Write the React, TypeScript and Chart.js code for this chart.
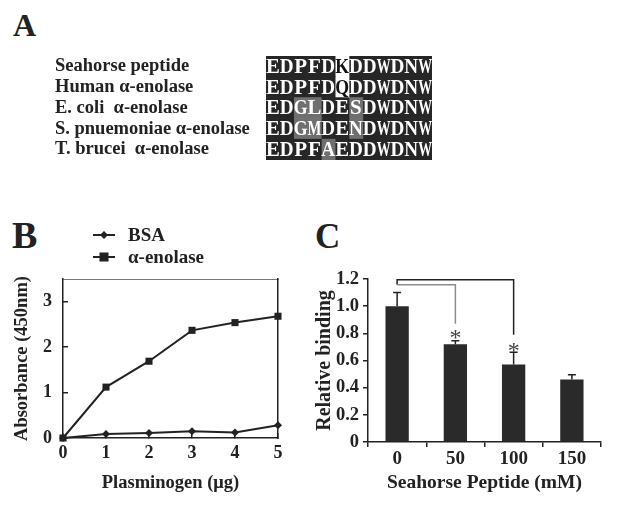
import React, { useEffect, useRef } from "react";
import { Chart, registerables } from "chart.js";

Chart.register(...registerables);

const SERIF = "'Liberation Serif', 'Times New Roman', serif";
const INK = "#222";

// ---------- Panel A data ----------
const alignRows = [
  "Seahorse peptide",
  "Human α-enolase",
  "E. coli  α-enolase",
  "S. pnuemoniae α-enolase",
  "T. brucei  α-enolase",
];
const alignSeqs = [
  "EDPFDKDDWDNW",
  "EDPFDQDDWDNW",
  "EDGLDESDWDNW",
  "EDGMDENDWDNW",
  "EDPFAEDDWDNW",
];
// d = identical (dark), g = similar (grey), w = different (white)
const alignShade = [
  "dddddwdddddd",
  "dddddwdddddd",
  "ddggddgddddd",
  "ddggddgddddd",
  "ddddgddddddd",
];

// ---------- Panel B data ----------
const plasminogen = [0, 1, 2, 3, 4, 5];
const bsaAbs = [0, 0.09, 0.11, 0.15, 0.12, 0.28];
const enolaseAbs = [0, 1.12, 1.69, 2.37, 2.54, 2.68];
const seriesBLabels = ["BSA", "α-enolase"];

// ---------- Panel C data ----------
const peptideConc = ["0", "50", "100", "150"];
const relBinding = [1.0, 0.72, 0.57, 0.46];
const relBindingErr = [0.1, 0.025, 0.09, 0.035];
const sigBrackets = [
  { from: 0, to: 2, top: 1.195, leftEnd: 1.158, rightEnd: 0.79, color: "#222" },
  { from: 0, to: 1, top: 1.158, leftEnd: 1.158, rightEnd: 0.87, color: "#8c8c8c" },
];
const sigStars = [
  { bar: 1, value: 0.8 },
  { bar: 2, value: 0.707 },
];

const shadeColor: Record<string, string> = { d: "#262626", g: "#6f6f6f", w: "#ffffff" };

function useChart(ref: React.RefObject<HTMLCanvasElement>, make: (c: HTMLCanvasElement) => Chart) {
  useEffect(() => {
    if (!ref.current) return;
    const ch = make(ref.current);
    return () => ch.destroy();
  }, []);
}

function PanelA() {
  const ref = useRef<HTMLCanvasElement>(null);
  useChart(ref, (canvas) => {
    const nCols = alignSeqs[0].length;
    const datasets = Array.from({ length: nCols }, (_, c) => ({
      label: "col" + c,
      data: alignRows.map(() => 1),
      backgroundColor: alignShade.map((s) => shadeColor[s[c]]),
      borderWidth: 0,
      barPercentage: 1,
      categoryPercentage: 1,
    }));
    const letters = {
      id: "letters",
      afterDatasetsDraw(chart: any) {
        const ctx = chart.ctx;
        ctx.save();
        ctx.font = `bold 21px ${SERIF}`;
        ctx.textAlign = "center";
        ctx.textBaseline = "middle";
        chart.data.datasets.forEach((_: any, c: number) => {
          const meta = chart.getDatasetMeta(c);
          meta.data.forEach((el: any, r: number) => {
            ctx.fillStyle = alignShade[r][c] === "w" ? "#111" : "#fff";
            ctx.save();
            const ch = alignSeqs[r][c];
            const cellW = Math.abs(el.x - el.base);
            const w = ctx.measureText(ch).width;
            const sx = w > cellW ? cellW / w : 1;
            ctx.translate((el.x + el.base) / 2, el.y + 1);
            ctx.scale(sx, 1);
            ctx.fillText(ch, 0, 0);
            ctx.restore();
          });
        });
        ctx.restore();
      },
    };
    return new Chart(canvas, {
      type: "bar",
      data: { labels: alignRows, datasets },
      options: {
        indexAxis: "y",
        responsive: false,
        animation: false,
        layout: { padding: { left: 55, top: 16, right: 186, bottom: 15 } },
        plugins: { legend: { display: false }, tooltip: { enabled: false } },
        scales: {
          x: { stacked: true, min: 0, max: nCols, display: false },
          y: {
            stacked: true,
            grid: { display: false },
            border: { display: false },
            ticks: {
              autoSkip: false,
              crossAlign: "far",
              color: INK,
              font: { family: SERIF, size: 18.5, weight: "bold" },
            },
            afterFit: (s: any) => {
              s.width = 211;
            },
          },
        },
      } as any,
      plugins: [letters],
    });
  });
  return <canvas ref={ref} width={618} height={135} style={{ position: "absolute", left: 0, top: 40 }} />;
}

function PanelB() {
  const ref = useRef<HTMLCanvasElement>(null);
  useChart(ref, (canvas) => {
    const legend = {
      id: "lineLegend",
      afterDraw(chart: any) {
        const ctx = chart.ctx;
        ctx.save();
        chart.data.datasets.forEach((ds: any, i: number) => {
          const y = 20 + i * 22;
          ctx.strokeStyle = INK;
          ctx.lineWidth = 2;
          ctx.beginPath();
          ctx.moveTo(93, y);
          ctx.lineTo(115, y);
          ctx.stroke();
          ctx.fillStyle = INK;
          const cx = 104;
          if (ds.pointStyle === "rect") {
            ctx.fillRect(cx - 4.5, y - 4.5, 9, 9);
          } else {
            ctx.beginPath();
            ctx.moveTo(cx, y - 4);
            ctx.lineTo(cx + 4, y);
            ctx.lineTo(cx, y + 4);
            ctx.lineTo(cx - 4, y);
            ctx.closePath();
            ctx.fill();
          }
          ctx.font = `bold 19px ${SERIF}`;
          ctx.textBaseline = "middle";
          ctx.textAlign = "left";
          ctx.fillText(ds.label, 128, y + 1);
        });
        ctx.restore();
      },
    };
    const tickFont = { family: SERIF, size: 18, weight: "bold" };
    const titleFont = { family: SERIF, size: 18.5, weight: "bold" };
    return new Chart(canvas, {
      type: "line",
      data: {
        datasets: [
          {
            label: seriesBLabels[0],
            data: plasminogen.map((x, i) => ({ x, y: bsaAbs[i] })),
            borderColor: INK,
            backgroundColor: INK,
            borderWidth: 2,
            pointStyle: "rectRot",
            pointRadius: 4,
            pointBorderWidth: 0,
            clip: false,
          },
          {
            label: seriesBLabels[1],
            data: plasminogen.map((x, i) => ({ x, y: enolaseAbs[i] })),
            borderColor: INK,
            backgroundColor: INK,
            borderWidth: 2,
            pointStyle: "rect",
            pointRadius: 5,
            pointBorderWidth: 0,
            clip: false,
          },
        ],
      },
      options: {
        responsive: false,
        animation: false,
        layout: { padding: { left: 0, top: 64, right: 22, bottom: 0 } },
        plugins: { legend: { display: false }, tooltip: { enabled: false } },
        scales: {
          x: {
            type: "linear",
            min: 0,
            max: 5,
            ticks: { stepSize: 1, color: INK, font: tickFont, padding: 10 },
            grid: { drawOnChartArea: false, tickLength: -5, color: INK, lineWidth: 1.5 },
            border: { color: INK, width: 1.5 },
            title: { display: true, text: "Plasminogen (μg)", color: INK, font: titleFont, padding: { top: 0, bottom: 18 } },
            afterFit: (s: any) => {
              s.height = 74;
            },
          },
          x2: {
            type: "linear",
            position: "top",
            min: 0,
            max: 5,
            ticks: { display: false },
            grid: { display: false },
            border: { display: true, color: "#777", width: 1 },
            afterFit: (s: any) => {
              s.height = 0;
            },
          },
          y: {
            min: 0,
            max: 3.5,
            ticks: { stepSize: 1, color: INK, font: tickFont, padding: 16 },
            afterBuildTicks: (s: any) => {
              s.ticks = s.ticks.filter((t: any) => Number.isInteger(t.value));
            },
            grid: { drawOnChartArea: false, tickLength: -5, color: INK, lineWidth: 1.5 },
            border: { color: INK, width: 1.5 },
            title: { display: true, text: "Absorbance (450nm)", color: INK, font: titleFont, padding: { top: 11, bottom: 0 } },
            afterFit: (s: any) => {
              s.width = 63;
            },
          },
          y2: {
            position: "right",
            min: 0,
            max: 3.5,
            ticks: { display: false },
            grid: { display: false },
            border: { display: true, color: INK, width: 1.5 },
            afterFit: (s: any) => {
              s.width = 0;
            },
          },
        },
      } as any,
      plugins: [legend],
    });
  });
  return <canvas ref={ref} width={300} height={297} style={{ position: "absolute", left: 0, top: 215 }} />;
}

function PanelC() {
  const ref = useRef<HTMLCanvasElement>(null);
  useChart(ref, (canvas) => {
    const annotations = {
      id: "errorsAndSig",
      afterDatasetsDraw(chart: any) {
        const ctx = chart.ctx;
        const ys = chart.scales.y;
        const meta = chart.getDatasetMeta(0);
        ctx.save();
        // error bars (upper only)
        ctx.strokeStyle = INK;
        ctx.lineWidth = 1.5;
        meta.data.forEach((el: any, i: number) => {
          const yv = ys.getPixelForValue(relBinding[i]);
          const ye = ys.getPixelForValue(relBinding[i] + relBindingErr[i]);
          ctx.beginPath();
          ctx.moveTo(el.x, yv);
          ctx.lineTo(el.x, ye);
          ctx.moveTo(el.x - 4, ye);
          ctx.lineTo(el.x + 4, ye);
          ctx.stroke();
        });
        // brackets
        sigBrackets.forEach((b) => {
          const x1 = meta.data[b.from].x;
          const x2 = meta.data[b.to].x;
          ctx.strokeStyle = b.color;
          ctx.lineWidth = 1.5;
          ctx.beginPath();
          ctx.moveTo(x1, ys.getPixelForValue(b.leftEnd));
          ctx.lineTo(x1, ys.getPixelForValue(b.top));
          ctx.lineTo(x2, ys.getPixelForValue(b.top));
          ctx.lineTo(x2, ys.getPixelForValue(b.rightEnd));
          ctx.stroke();
        });
        // stars
        ctx.fillStyle = "#444";
        ctx.font = `24px ${SERIF}`;
        ctx.textAlign = "center";
        ctx.textBaseline = "alphabetic";
        sigStars.forEach((s) => {
          const x = meta.data[s.bar].x;
          const y = ys.getPixelForValue(s.value);
          ctx.fillText("*", x, y + 12);
        });
        ctx.restore();
      },
    };
    return new Chart(canvas, {
      type: "bar",
      data: {
        labels: peptideConc,
        datasets: [
          {
            label: "Relative binding",
            data: relBinding,
            backgroundColor: "#2a2a2a",
            borderWidth: 0,
            barPercentage: 0.4,
            categoryPercentage: 1,
          },
        ],
      },
      options: {
        responsive: false,
        animation: false,
        layout: { padding: { left: 0, top: 64, right: 17, bottom: 0 } },
        plugins: { legend: { display: false }, tooltip: { enabled: false } },
        scales: {
          x: {
            ticks: { color: INK, font: { family: SERIF, size: 19, weight: "bold" }, padding: 1 },
            grid: { offset: true, drawOnChartArea: false, tickLength: 5, color: INK, lineWidth: 1.5 },
            border: { color: INK, width: 1.5 },
            title: {
              display: true,
              text: "Seahorse Peptide (mM)",
              color: INK,
              font: { family: SERIF, size: 19.5, weight: "bold" },
              padding: { top: 0, bottom: 17 },
            },
            afterFit: (s: any) => {
              s.height = 70;
            },
          },
          y: {
            min: 0,
            max: 1.2,
            ticks: {
              stepSize: 0.2,
              color: INK,
              font: { family: SERIF, size: 18.5, weight: "bold" },
              padding: 4,
              callback: (v: any) => (v === 0 ? "0" : Number(v).toFixed(1)),
            },
            grid: { drawOnChartArea: false, tickLength: 5, color: INK, lineWidth: 1.5 },
            border: { color: INK, width: 1.5 },
            title: {
              display: true,
              text: "Relative binding",
              color: INK,
              font: { family: SERIF, size: 20, weight: "bold" },
              padding: { top: 13, bottom: 0 },
            },
            afterFit: (s: any) => {
              s.width = 68;
            },
          },
        },
      } as any,
      plugins: [annotations],
    });
  });
  return <canvas ref={ref} width={318} height={297} style={{ position: "absolute", left: 300, top: 215 }} />;
}

const letterStyle = (size: number, left: number, top: number): React.CSSProperties => ({
  position: "absolute",
  left,
  top,
  fontFamily: SERIF,
  fontWeight: "bold",
  fontSize: size,
  lineHeight: 1,
  color: INK,
});

export default function App() {
  return (
    <div style={{ position: "absolute", left: 0, top: 0, width: 618, height: 512, background: "#fff", overflow: "hidden" }}>
      <div style={letterStyle(32, 13, 9)}>A</div>
      <div style={letterStyle(38, 12, 216)}>B</div>
      <div style={letterStyle(35, 315, 219)}>C</div>
      <PanelA />
      <PanelB />
      <PanelC />
    </div>
  );
}
